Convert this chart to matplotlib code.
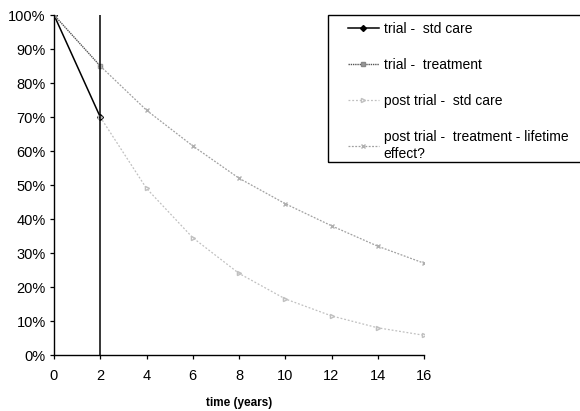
import matplotlib
matplotlib.use("Agg")
import matplotlib.pyplot as plt
from matplotlib.ticker import PercentFormatter
from matplotlib.patches import Rectangle

plt.rcParams['font.family'] = ['Liberation Sans', 'DejaVu Sans']

trial_x = [0, 2]
trial_std = [100, 70]
trial_trt = [100, 85]
post_x = [2, 4, 6, 8, 10, 12, 14, 16]
post_std = [70, 49, 34.5, 24, 16.5, 11.5, 8, 5.8]
post_trt = [85, 72, 61.5, 52, 44.5, 38, 32, 27]
x_ticks = list(range(0, 17, 2))
y_ticks = list(range(0, 101, 10))

W, H = 580, 411
fig = plt.figure(figsize=(5.8, 4.11), dpi=100)
ax = fig.add_axes([54 / W, 1 - 355 / H, (424 - 54) / W, (355 - 15) / H])

ax.plot(trial_x, trial_std, color='black', lw=1.1, marker='D', ms=3,
        label='trial -  std care')
ax.plot(trial_x, trial_trt, color='#555555', lw=1.0, ls=(0, (1, 0.6)), marker='s',
        ms=3.5, mfc='#999999', mec='#888888', label='trial -  treatment')
ax.plot(post_x, post_std, color='#c0c0c0', lw=0.9, ls=(0, (1.5, 1.5)), marker='>',
        ms=3, mfc='none', mec='#c0c0c0', label='post trial -  std care')
ax.plot(post_x, post_trt, color='#a0a0a0', lw=0.9, ls=(0, (1.5, 1.2)), marker='x',
        ms=3, mec='#b0b0b0', label='post trial -  treatment - lifetime\neffect?')
ax.axvline(2, color='black', lw=1.1)

ax.set_xlim(0, 16)
ax.set_ylim(0, 100)
ax.set_xticks(x_ticks)
ax.set_yticks(y_ticks)
ax.yaxis.set_major_formatter(PercentFormatter(decimals=0))
ax.spines['top'].set_visible(False)
ax.spines['right'].set_visible(False)
for s in ('left', 'bottom'):
    ax.spines[s].set_linewidth(1.0)
ax.tick_params(axis='both', labelsize=10.5, direction='out', length=3, width=0.9)
ax.tick_params(axis='x', pad=7)
ax.tick_params(axis='y', pad=3)
ax.set_xlabel('time (years)', fontsize=8.5, fontweight='bold', labelpad=10)

# legend frame (extends past the right edge of the figure)
fig.patches.append(Rectangle((328 / W, 1 - 162 / H), (600 - 328) / W, (162 - 15) / H,
                             transform=fig.transFigure, fill=False, edgecolor='black',
                             lw=1.0))
leg = fig.legend(loc='upper left', bbox_to_anchor=(335 / W, 1 - 9 / H), fontsize=10,
                 frameon=False, handlelength=2.3, labelspacing=1.6,
                 borderpad=0.4, handletextpad=0.3)
for t in leg.get_texts():
    t.set_linespacing(1.25)

fig.savefig('out.png', dpi=100)
